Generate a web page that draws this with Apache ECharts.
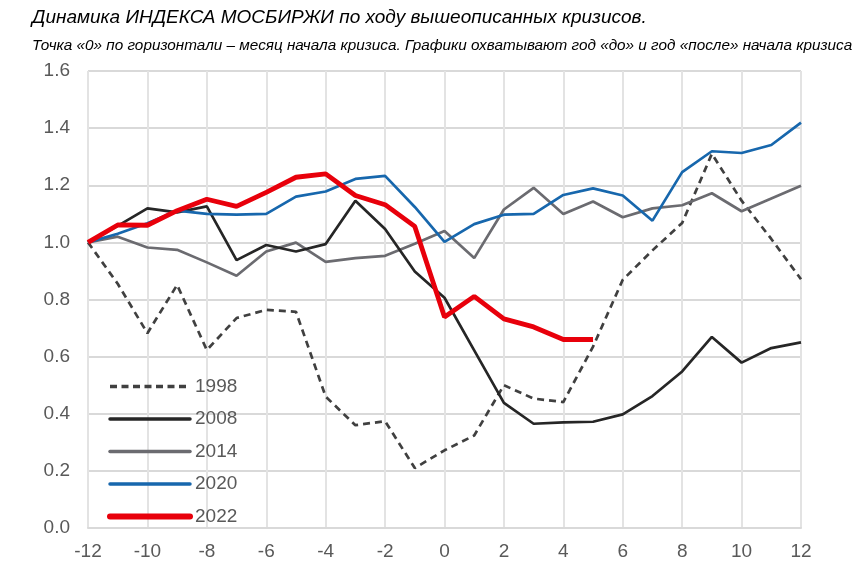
<!DOCTYPE html>
<html>
<head>
<meta charset="utf-8">
<script src="https://cdn.jsdelivr.net/npm/echarts@6/dist/echarts.min.js"></script>
<style>
html,body{margin:0;padding:0;background:#fff;}
#c{width:859px;height:574px;}
</style>
</head>
<body>
<div id="c"></div>
<script>
const months = [-12,-11,-10,-9,-8,-7,-6,-5,-4,-3,-2,-1,0,1,2,3,4,5,6,7,8,9,10,11,12];
const y1998 = [1.0,0.855,0.682,0.851,0.623,0.735,0.764,0.757,0.46,0.36,0.374,0.21,0.272,0.324,0.50,0.453,0.441,0.635,0.869,0.972,1.068,1.31,1.146,1.012,0.871];
const y2008 = [1.0,1.058,1.119,1.105,1.126,0.938,0.991,0.968,0.994,1.146,1.047,0.898,0.806,0.622,0.438,0.365,0.37,0.372,0.398,0.462,0.548,0.669,0.579,0.63,0.65];
const y2014 = [1.0,1.02,0.982,0.974,0.93,0.883,0.968,0.999,0.932,0.945,0.953,0.995,1.04,0.945,1.115,1.191,1.099,1.143,1.088,1.119,1.13,1.172,1.109,1.154,1.198];
const y2020 = [1.0,1.03,1.067,1.111,1.10,1.097,1.10,1.16,1.178,1.222,1.233,1.124,1.002,1.064,1.097,1.10,1.166,1.189,1.164,1.076,1.246,1.319,1.313,1.341,1.419];
const y2022 = [1.0,1.061,1.06,1.111,1.151,1.126,1.175,1.228,1.24,1.164,1.132,1.056,0.739,0.811,0.732,0.704,0.660,0.660];
const seriesNames = ['1998','2008','2014','2020','2022'];

function pairs(vals){ return vals.map((v,i)=>[months[i], v]); }

const FONT = "'Liberation Sans Narrow','Arial Narrow','Liberation Sans',Arial,sans-serif";

const chart = echarts.init(document.getElementById('c'), null, {renderer:'canvas'});
chart.setOption({
  animation:false,
  backgroundColor:'#fff',
  title:[{
    text:'Динамика ИНДЕКСА МОСБИРЖИ по ходу вышеописанных кризисов.',
    left:27, top:3,
    textStyle:{fontFamily:"'Liberation Sans',Arial,sans-serif", fontStyle:'italic', fontWeight:'normal', fontSize:19, color:'#000'}
  },{
    text:'Точка «0» по горизонтали – месяц начала кризиса. Графики охватывают год «до» и год «после» начала кризиса',
    left:27, top:33,
    textStyle:{fontFamily:"'Liberation Sans',Arial,sans-serif", fontStyle:'italic', fontWeight:'normal', fontSize:15.3, color:'#000'}
  }],
  legend:{
    orient:'vertical', left:102, top:372,
    itemWidth:80, itemHeight:14, itemGap:13.5, itemGap:13.5,
    itemStyle:{opacity:0},
    textStyle:{fontFamily:FONT, fontSize:19, color:'#595959', padding:[0,0,0,0]},
    data:[
      {name:seriesNames[0], lineStyle:{width:3.5, type:[7,4.5]}},
      {name:seriesNames[1], lineStyle:{width:3.5, cap:'round'}},
      {name:seriesNames[2], lineStyle:{width:3.5, cap:'round'}},
      {name:seriesNames[3], lineStyle:{width:3.5, cap:'round'}},
      {name:seriesNames[4], lineStyle:{width:6, cap:'round'}}
    ]
  },
  grid:{left:88, right:58, top:71, bottom:46, containLabel:false},
  xAxis:{
    type:'value', min:-12, max:12, interval:2,
    axisLine:{show:true, lineStyle:{color:'#d9d9d9', width:2}},
    axisTick:{show:false},
    axisLabel:{fontFamily:FONT, fontSize:19, color:'#595959', margin:14},
    splitLine:{show:true, lineStyle:{color:'#e3e3e3', width:2}}
  },
  yAxis:{
    type:'value', min:0, max:1.6, interval:0.2,
    axisLine:{show:false}, axisTick:{show:false},
    axisLabel:{fontFamily:FONT, fontSize:19, color:'#595959', margin:18, formatter:v=>v.toFixed(1)},
    splitLine:{show:true, lineStyle:{color:'#d9d9d9', width:2}}
  },
  series:[
    {name:seriesNames[0], type:'line', data:pairs(y1998), symbol:'none', lineStyle:{color:'#404040', width:2.7, type:[7,5]}, itemStyle:{color:'#404040'}, z:2},
    {name:seriesNames[1], type:'line', data:pairs(y2008), symbol:'none', lineStyle:{color:'#262626', width:2.7}, itemStyle:{color:'#262626'}, z:3},
    {name:seriesNames[2], type:'line', data:pairs(y2014), symbol:'none', lineStyle:{color:'#6b6b70', width:2.7}, itemStyle:{color:'#6b6b70'}, z:2},
    {name:seriesNames[3], type:'line', data:pairs(y2020), symbol:'none', lineStyle:{color:'#1767ad', width:2.7}, itemStyle:{color:'#1767ad'}, z:4},
    {name:seriesNames[4], type:'line', data:pairs(y2022), symbol:'none', lineStyle:{color:'#e8000b', width:4.8}, itemStyle:{color:'#e8000b'}, z:5}
  ]
});
</script>
</body>
</html>
